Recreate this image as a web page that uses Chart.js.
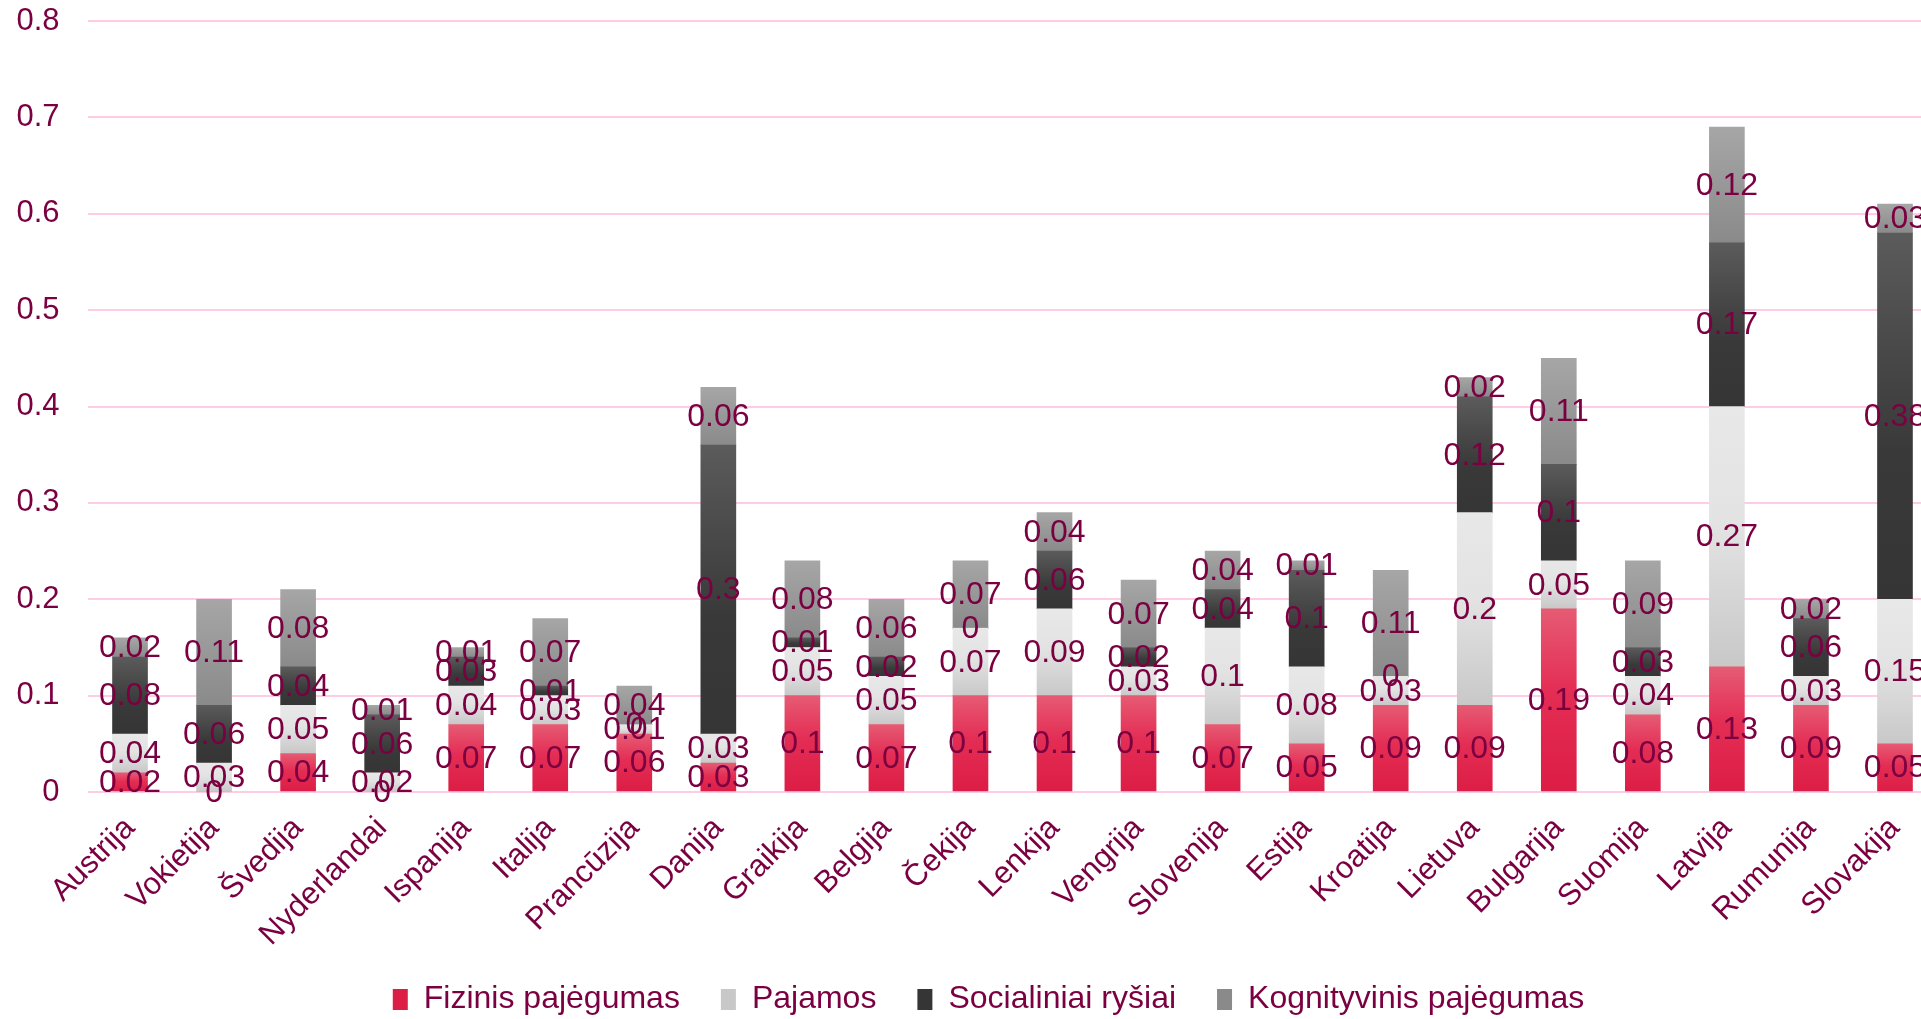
<!DOCTYPE html>
<html>
<head>
<meta charset="utf-8">
<script src="https://cdn.jsdelivr.net/npm/chart.js"></script>
<style>
  html, body { margin: 0; padding: 0; background: #fff; overflow: hidden; }
  #wrap { width: 1977px; height: 1019px; }
</style>
</head>
<body>
<div id="wrap"><canvas id="myChart"></canvas></div>
<script>
    const countries = ['Austrija', 'Vokietija', 'Švedija', 'Nyderlandai', 'Ispanija', 'Italija', 'Prancūzija',
        'Danija', 'Graikija', 'Belgija', 'Čekija', 'Lenkija', 'Vengrija', 'Slovenija', 'Estija', 'Kroatija',
        'Lietuva', 'Bulgarija', 'Suomija', 'Latvija', 'Rumunija', 'Slovakija'];
    const fizinis = [0.02, 0, 0.04, 0, 0.07, 0.07, 0.06, 0.03, 0.1, 0.07, 0.1, 0.1, 0.1, 0.07, 0.05, 0.09, 0.09, 0.19, 0.08, 0.13, 0.09, 0.05];
    const pajamos = [0.04, 0.03, 0.05, 0.02, 0.04, 0.03, 0.01, 0.03, 0.05, 0.05, 0.07, 0.09, 0.03, 0.1, 0.08, 0.03, 0.2, 0.05, 0.04, 0.27, 0.03, 0.15];
    const socialiniai = [0.08, 0.06, 0.04, 0.06, 0.03, 0.01, 0, 0.3, 0.01, 0.02, 0, 0.06, 0.02, 0.04, 0.1, 0, 0.12, 0.1, 0.03, 0.17, 0.06, 0.38];
    const kognityvinis = [0.02, 0.11, 0.08, 0.01, 0.01, 0.07, 0.04, 0.06, 0.08, 0.06, 0.07, 0.04, 0.07, 0.04, 0.01, 0.11, 0.02, 0.11, 0.09, 0.12, 0.02, 0.03];
    const yTicks = [0, 0.1, 0.2, 0.3, 0.4, 0.5, 0.6, 0.7, 0.8];

    const textColor = '#7B0041';
    const gridColor = '#FFCCE4';
    const fontFamily = '"Liberation Sans", Arial, sans-serif';

    // vertical gradient per segment, like the office chart fill
    function gradientFill(stops) {
        return function (c) {
            const chart = c.chart;
            let top, bottom;
            if (c.type === 'data' && chart.chartArea) {
                const y = chart.scales.y;
                let base = 0;
                for (let d = 0; d < c.datasetIndex; d++) base += chart.data.datasets[d].data[c.dataIndex];
                const v = chart.data.datasets[c.datasetIndex].data[c.dataIndex];
                top = y.getPixelForValue(base + v);
                bottom = y.getPixelForValue(base);
                if (bottom - top < 1) bottom = top + 1;
            } else {
                // legend box
                top = chart.height - 29;
                bottom = chart.height - 8;
            }
            const g = chart.ctx.createLinearGradient(0, top, 0, bottom);
            stops.forEach(s => g.addColorStop(s[0], s[1]));
            return g;
        };
    }

    const valueLabels = {
        id: 'valueLabels',
        afterDatasetsDraw(chart) {
            const ctx = chart.ctx;
            ctx.save();
            ctx.font = '32px ' + fontFamily;
            ctx.fillStyle = textColor;
            ctx.textAlign = 'center';
            ctx.textBaseline = 'middle';
            chart.data.datasets.forEach((ds, i) => {
                chart.getDatasetMeta(i).data.forEach((bar, j) => {
                    const p = bar.getCenterPoint();
                    ctx.fillText(String(ds.data[j]), p.x, p.y + 1);
                });
            });
            ctx.restore();
        }
    };

    Chart.defaults.font.family = fontFamily;
    Chart.defaults.font.size = 31;
    Chart.defaults.color = textColor;

    const ctx = document.getElementById('myChart');
    const myChart = new Chart(ctx, {
        type: 'bar',
        data: {
            labels: countries,
            datasets: [{
                label: 'Fizinis pajėgumas',
                data: fizinis,
                backgroundColor: gradientFill([[0, '#E65B73'], [0.45, '#E42D54'], [1, '#DC1D45']])
            },
            {
                label: 'Pajamos',
                data: pajamos,
                backgroundColor: gradientFill([[0, '#E8E8E8'], [0.45, '#E3E3E3'], [1, '#C8C8C8']])
            },
            {
                label: 'Socialiniai ryšiai',
                data: socialiniai,
                backgroundColor: gradientFill([[0, '#5B5B5B'], [0.6, '#393939'], [1, '#353535']])
            },
            {
                label: 'Kognityvinis pajėgumas',
                data: kognityvinis,
                backgroundColor: gradientFill([[0, '#A6A6A6'], [1, '#8A8A8A']])
            }]
        },
        options: {
            responsive: true,
            maintainAspectRatio: false,
            animation: false,
            layout: { padding: { left: 40, right: 40, top: 0, bottom: 0 } },
            datasets: { bar: { barThickness: 35 } },
            plugins: {
                tooltip: { enabled: false },
                legend: {
                    position: 'bottom',
                    maxHeight: 76.5,
                    labels: { boxWidth: 15, boxHeight: 21, padding: 41, color: textColor, font: { size: 32 } }
                }
            },
            scales: {
                x: {
                    stacked: true,
                    grid: { display: false },
                    border: { display: false },
                    ticks: { autoSkip: false, minRotation: 45, maxRotation: 45, padding: 10, color: textColor },
                    afterFit(scale) {
                        scale.height = 150.5;
                        scale._computeLabelArea = () => undefined; // let long names run past the axis box
                    }
                },
                y: {
                    stacked: true,
                    min: 0,
                    max: 0.8,
                    afterBuildTicks(scale) { scale.ticks = yTicks.map(v => ({ value: v })); },
                    grid: { color: gridColor, lineWidth: 2, drawTicks: true, tickLength: 26, tickColor: 'rgba(0,0,0,0)' },
                    border: { display: false },
                    ticks: { padding: 2.5, color: textColor },
                    afterFit(scale) {
                        scale.width = 48;
                        scale._computeLabelArea = () => undefined;
                    }
                }
            }
        },
        plugins: [valueLabels]
    });
</script>
</body>
</html>
